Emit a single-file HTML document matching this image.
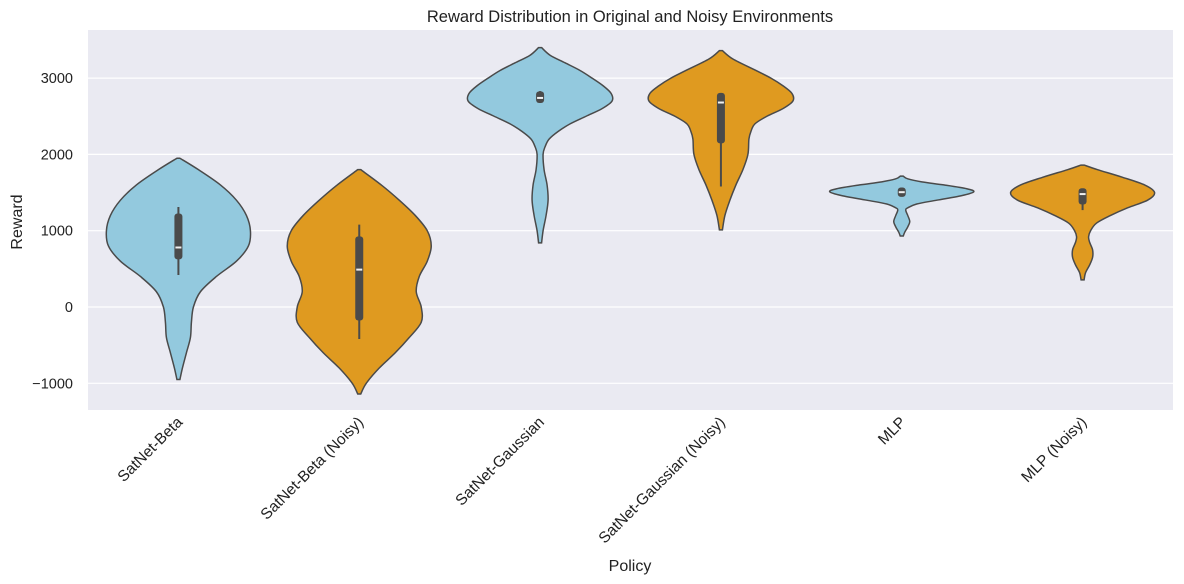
<!DOCTYPE html>
<html><head><meta charset="utf-8"><style>
body{margin:0;background:#fff;}
svg{display:block;font-family:"Liberation Sans",Arial,sans-serif;}
</style></head><body>
<svg id="chart" width="1184" height="584" viewBox="0 0 1184 584" xmlns="http://www.w3.org/2000/svg">
<rect x="88" y="30" width="1085" height="380" fill="#eaeaf2"/>
<g id="grid"></g>
<g id="violins"></g>
<g id="ticks"></g>
<text x="630" y="22" text-anchor="middle" font-size="16.5" fill="#222">Reward Distribution in Original and Noisy Environments</text>
<text transform="translate(22,222) rotate(-90)" text-anchor="middle" font-size="16" fill="#222">Reward</text>
<text x="630" y="571" text-anchor="middle" font-size="16" fill="#222">Policy</text>
</svg>
<script>
const categories = ["SatNet-Beta","SatNet-Beta (Noisy)","SatNet-Gaussian","SatNet-Gaussian (Noisy)","MLP","MLP (Noisy)"];
const yTicks = [-1000,0,1000,2000,3000];
// density profiles: [reward value, relative density 0..72]
const profBeta = [[1950,0],[1800,20],[1600,42],[1400,58],[1200,68],[1000,72],[800,70],[600,58],[400,38],[200,22],[0,15],[-200,13],[-400,12],[-600,8],[-800,4],[-950,0]];
const profBetaNoisy = [[1800,0],[1600,22],[1400,40],[1200,56],[1000,68],[800,72],[600,68],[400,60],[200,57],[0,62],[-200,62],[-400,50],[-600,36],[-800,20],[-1000,7],[-1140,0]];
const profGauss = [[3400,0],[3300,10],[3200,25],[3100,40],[3000,52],[2900,63],[2800,71],[2700,72],[2600,62],[2500,46],[2400,30],[2300,18],[2200,9],[2100,5],[2000,3],[1800,4],[1600,7],[1400,8],[1200,6],[1000,3],[840,0]];
const profGaussNoisy = [[3360,0],[3250,12],[3100,35],[3000,50],[2900,62],[2800,71],[2700,72],[2600,62],[2500,46],[2400,34],[2300,30],[2200,28],[2000,27],[1800,22],[1600,15],[1400,9],[1200,4],[1010,0]];
const profMLP = [[1715,0],[1680,6],[1640,20],[1600,42],[1550,65],[1510,72],[1460,60],[1400,35],[1350,15],[1300,6],[1270,4],[1200,6],[1120,8],[1050,6],[980,3],[930,0]];
const profMLPNoisy = [[1860,0],[1800,15],[1700,40],[1600,62],[1500,72],[1400,65],[1300,45],[1200,28],[1100,14],[1000,8],[920,6],[850,7],[750,10],[650,10],[550,7],[450,3],[355,0]];
const profiles = [profBeta,profBetaNoisy,profGauss,profGaussNoisy,profMLP,profMLPNoisy];
const q1 = [650,-150,2700,2170,1470,1370];
const q3 = [1200,900,2800,2780,1540,1530];
const medians = [780,490,2740,2680,1505,1480];
const whiskLo = [420,-420,2700,1580,1470,1270];
const whiskHi = [1310,1080,2830,2780,1540,1530];
const colors = ["#93c9de","#df9a20","#93c9de","#df9a20","#93c9de","#df9a20"];

const NS="http://www.w3.org/2000/svg";
const plotL=88, plotR=1173;
const yScale=v=>307-v*0.0763;
const band=(plotR-plotL)/categories.length;
const xScale=i=>plotL+band*(i+0.5);
function mk(tag,attrs,parent){const e=document.createElementNS(NS,tag);for(const k in attrs)e.setAttribute(k,attrs[k]);parent.appendChild(e);return e;}
const grid=document.getElementById('grid'), ticks=document.getElementById('ticks'), vg=document.getElementById('violins');
yTicks.forEach(t=>{
  const l=mk('line',{x1:plotL,x2:plotR,y1:yScale(t),y2:yScale(t),stroke:'#fff','stroke-width':1.2},grid);
  
  
  const tx=mk('text',{x:73,y:yScale(t)+5,'text-anchor':'end','font-size':14.5,fill:'#222'},ticks);
  tx.textContent=t<0?'\u2212'+Math.abs(t):String(t);
  
  
});
function smooth(pts){
  let d='M'+pts[0][0]+','+pts[0][1];
  for(let i=0;i<pts.length-1;i++){
    const p0=pts[i-1]||pts[i],p1=pts[i],p2=pts[i+1],p3=pts[i+2]||p2;
    const c1=[p1[0]+(p2[0]-p0[0])/6,p1[1]+(p2[1]-p0[1])/6];
    const c2=[p2[0]-(p3[0]-p1[0])/6,p2[1]-(p3[1]-p1[1])/6];
    d+=' C'+c1[0]+','+c1[1]+' '+c2[0]+','+c2[1]+' '+p2[0]+','+p2[1];
  }
  return d;
}
categories.forEach((c,i)=>{
  const cx=xScale(i), pr=profiles[i];
  const right=pr.map(p=>[cx+Math.max(p[1],1.5),yScale(p[0])]);
  const left=pr.slice().reverse().map(p=>[cx-Math.max(p[1],1.5),yScale(p[0])]);
  const d=smooth(right)+' L'+left[0][0]+','+left[0][1]+smooth(left).replace(/^M[^ ]+/,'')+' Z';
  const g=mk('g',{},vg);
  
  
  const p=mk('path',{d:d,fill:colors[i],stroke:'#4a4a4a','stroke-width':1.5},g);
  
  
  const w=mk('line',{x1:cx,x2:cx,y1:yScale(whiskLo[i]),y2:yScale(whiskHi[i]),stroke:'#4a4a4a','stroke-width':2},g);
  
  
  const b=mk('rect',{x:cx-4,y:yScale(q3[i])-2,width:8,height:Math.max(yScale(q1[i])-yScale(q3[i])+4,6),rx:3,fill:'#4a4a4a'},g);
  
  
  const m=mk('line',{x1:cx-3,x2:cx+3,y1:yScale(medians[i]),y2:yScale(medians[i]),stroke:'#f0f0f0','stroke-width':2},g);
  
  
  const tx=mk('text',{transform:'translate('+(cx+5)+',423) rotate(-45)','text-anchor':'end','font-size':15.5,fill:'#222'},ticks);
  tx.textContent=c;
  
  
});
</script>
</body></html>
